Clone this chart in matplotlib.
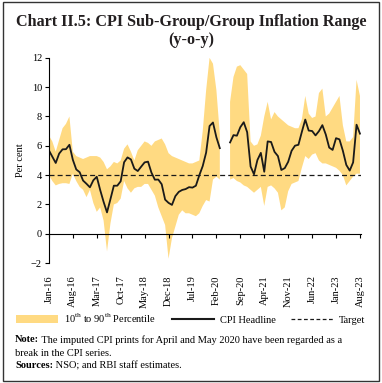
import numpy as np
import matplotlib
matplotlib.use("Agg")
import matplotlib.pyplot as plt
from matplotlib.patches import Patch, Rectangle
from matplotlib.lines import Line2D

plt.rcParams['font.family'] = ['Liberation Serif', 'DejaVu Serif']
plt.rcParams['mathtext.fontset'] = 'custom'
plt.rcParams['mathtext.rm'] = 'Liberation Serif'

nan = np.nan

# monthly, Jan-16 .. Aug-23 (Apr-20 and May-20 are a break)
months = ["Jan", "Feb", "Mar", "Apr", "May", "Jun", "Jul", "Aug", "Sep", "Oct", "Nov", "Dec"]
labels = [m + "-" + str(y) for y in range(16, 24) for m in months][:92]

headline = [5.69, 5.26, 4.83, 5.47, 5.76, 5.77, 6.07, 5.05, 4.39, 4.20, 3.63, 3.41,
            3.17, 3.65, 3.89, 2.99, 2.18, 1.46, 2.36, 3.28, 3.28, 3.58, 4.88, 5.21,
            5.07, 4.44, 4.28, 4.58, 4.87, 4.92, 4.17, 3.69, 3.70, 3.38, 2.33, 2.11,
            1.97, 2.57, 2.86, 2.99, 3.05, 3.18, 3.15, 3.28, 3.99, 4.62, 5.54, 7.35,
            7.59, 6.58, 5.84, nan, nan, 6.23, 6.73, 6.69, 7.27, 7.61, 6.93, 4.59,
            4.06, 5.03, 5.52, 4.23, 6.30, 6.26, 5.59, 5.30, 4.35, 4.48, 4.91, 5.66,
            6.01, 6.07, 6.95, 7.79, 7.04, 7.01, 6.71, 7.00, 7.41, 6.77, 5.88, 5.72,
            6.52, 6.44, 5.66, 4.70, 4.31, 4.87, 7.44, 6.83]

p90 = [6.7, 6.3, 5.6, 6.4, 7.2, 7.5, 8.0, 5.6, 5.3, 5.2, 5.1, 5.2,
       5.3, 5.3, 5.3, 5.2, 4.9, 4.4, 4.6, 4.9, 4.8, 5.0, 5.8, 6.1,
       5.6, 5.0, 5.7, 6.0, 6.3, 6.2, 6.0, 6.3, 6.4, 6.5, 6.1, 5.5,
       5.3, 5.2, 5.1, 5.0, 4.9, 4.8, 4.8, 4.9, 5.0, 7.0, 9.8, 12.0,
       11.6, 9.8, 6.8, nan, nan, 9.0, 10.7, 11.4, 11.5, 11.2, 10.9, 6.3,
       6.0, 6.1, 6.7, 8.0, 9.0, 7.8, 8.3, 8.0, 7.8, 7.6, 7.4, 7.3,
       7.2, 7.2, 7.8, 9.4, 8.2, 7.9, 8.0, 9.6, 9.9, 8.0, 8.2, 8.6,
       9.0, 9.4, 7.4, 6.3, 6.3, 6.6, 10.5, 9.4]

p10 = [4.0, 3.6, 3.3, 3.4, 3.45, 3.45, 3.4, 4.1, 3.6, 3.2, 3.0, 2.5,
       3.0, 2.1, 1.5, 1.8, 0.9, -1.2, 0.7, 2.0, 2.1, 2.4, 3.6, 3.1,
       2.8, 3.1, 3.2, 3.2, 3.4, 3.4, 3.0, 2.6, 1.8, 1.2, 0.6, -1.7,
       -0.3, 0.5, 1.3, 1.6, 1.4, 1.4, 1.3, 1.2, 1.4, 1.9, 2.3, 2.2,
       3.7, 3.9, 3.7, nan, nan, 3.7, 3.8, 3.6, 3.5, 3.3, 3.2, 3.0,
       2.8, 3.0, 3.2, 1.9, 3.2, 3.3, 3.1, 2.8, 1.6, 1.8, 2.9, 3.4,
       3.5, 3.6, 4.5, 5.3, 5.1, 5.4, 5.5, 5.0, 4.8, 4.8, 4.7, 4.6,
       4.5, 4.3, 4.0, 3.3, 3.6, 3.9, 4.1, 4.1]

target = 4

x = np.arange(len(labels))
yellow = "#FFDA82"

fig = plt.figure(figsize=(3.82, 3.83), dpi=100)
ax = fig.add_axes([0.128, 0.313, 0.817, 0.536])

ax.fill_between(x, p10, p90, color=yellow, linewidth=0)
ax.plot(x, headline, color="#1a1a1a", lw=1.3)
ax.axhline(target, color="#1a1a1a", lw=0.9, ls=(0, (4, 2.5)))

ax.spines["bottom"].set_position(("data", 0))
ax.spines["top"].set_visible(False)
ax.spines["right"].set_visible(False)
ax.set_xlim(0, 91.3)
ax.set_ylim(-2, 12)
ax.set_yticks(range(-2, 13, 2))
ax.set_xticks(x[::7])
ax.set_xticklabels(labels[::7], rotation=90, fontsize=7.5, va="top", ha="center")
ax.tick_params(axis="y", labelsize=7.5, length=3, width=0.8, pad=2)
ax.tick_params(axis="x", length=3, width=0.8, pad=27)
ax.set_ylabel("Per cent", fontsize=7.5, labelpad=4)

fig.text(0.5, 1 - 22 / 383, "Chart II.5: CPI Sub-Group/Group Inflation Range",
         ha="center", va="center", fontsize=11.6, fontweight="bold", color="#231f20")
fig.text(0.5, 1 - 40 / 383, "(y-o-y)", ha="center", va="center", fontsize=11.6,
         fontweight="bold", color="#231f20")

handles = [Patch(facecolor=yellow, edgecolor="none"),
           Line2D([], [], color="#1a1a1a", lw=1.5),
           Line2D([], [], color="#1a1a1a", lw=0.9, ls=(0, (3, 2)))]
fig.legend(handles, ["10$^{\\mathrm{th}}$ to 90$^{\\mathrm{th}}$ Percentile", "CPI Headline", "Target"],
           loc="center", bbox_to_anchor=(0.5, 1 - 318 / 383), ncol=3, frameon=False,
           fontsize=7.5, handlelength=4, columnspacing=1.5, handletextpad=0.6)

# notes
r = fig.canvas.get_renderer()
def note(y, bold, rest):
    t = fig.text(15 / 382, y, bold, fontsize=7.5, fontweight="bold", va="center")
    w = t.get_window_extent(r).width / fig.bbox.width
    fig.text(15 / 382 + w, y, rest, fontsize=7.5, va="center")

note(1 - 340 / 383, "Note:", " The imputed CPI prints for April and May 2020 have been regarded as a")
fig.text(15 / 382, 1 - 353 / 383, "break in the CPI series.", fontsize=7.5, va="center")
note(1 - 366 / 383, "Sources:", " NSO; and RBI staff estimates.")

fig.patches.append(Rectangle((0.008, 0.006), 0.984, 0.988, transform=fig.transFigure,
                             fill=False, edgecolor="#333333", lw=1))

fig.savefig("out.png", dpi=100)
